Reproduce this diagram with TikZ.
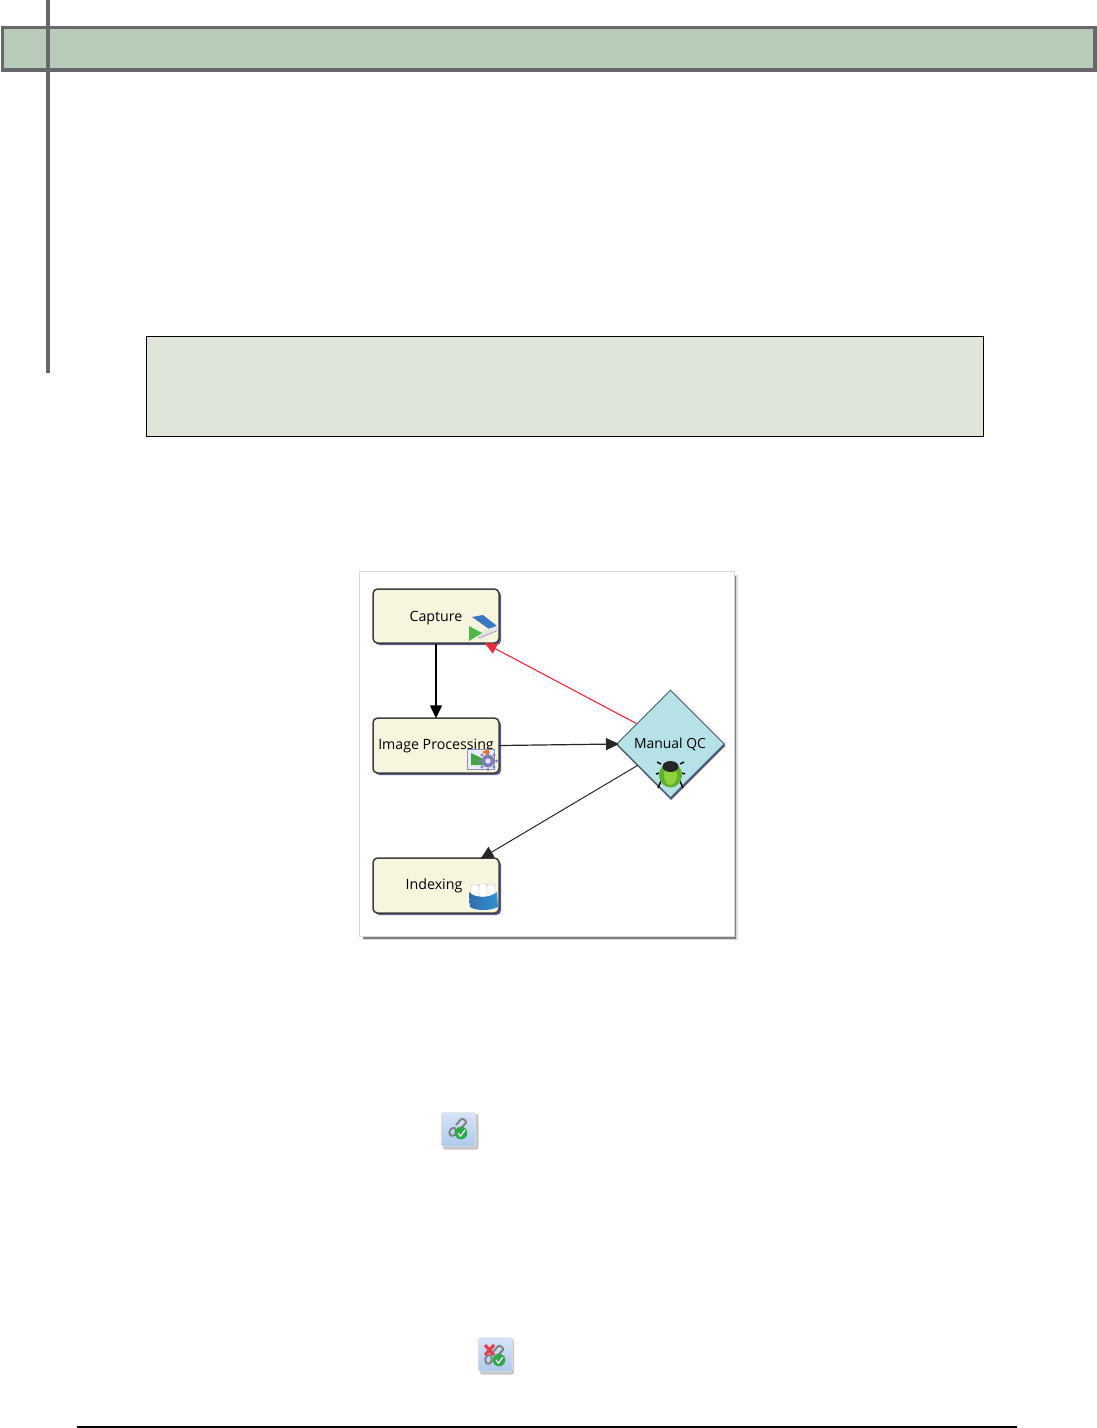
\documentclass[tikz,border=0pt]{standalone}
\usepackage{fontspec}
\setmainfont{Open Sans}
\usetikzlibrary{shapes.geometric,arrows.meta,shadows}
\definecolor{bandgreen}{HTML}{B8CBB8}
\definecolor{bandedge}{HTML}{66686C}
\definecolor{notegreen}{HTML}{DFE6D9}
\definecolor{stepfill}{HTML}{F8F5DF}
\definecolor{stepedge}{HTML}{3F3F3F}
\definecolor{qcfill}{HTML}{B6E1E7}
\definecolor{qcedge}{HTML}{4A5A62}
\definecolor{shadowblue}{HTML}{5A5A96}
\definecolor{icongreen}{HTML}{4DB848}
\definecolor{iconblue}{HTML}{3A78C4}
\definecolor{gearblue}{HTML}{8080B8}
\definecolor{buggreen}{HTML}{5FB02A}
\definecolor{buglight}{HTML}{8FD03C}
\definecolor{chkgreen}{HTML}{2FA84A}
\definecolor{xred}{HTML}{E8384A}
\definecolor{linkred}{HTML}{EC2A3A}
\definecolor{btntop}{HTML}{D6E4F6}
\definecolor{btnbot}{HTML}{AFC9EC}
\tikzset{
  x=1pt,y=-1pt,
  stepbox/.style={rectangle,rounded corners=4.5pt,draw=stepedge,line width=1.5pt,fill=stepfill,
    minimum width=126pt,minimum height=54pt,inner sep=0pt,font=\fontsize{14.2}{16}\selectfont,text=black},
  qcbox/.style={diamond,draw=qcedge,line width=1pt,fill=qcfill,minimum width=108pt,minimum height=108pt,
    inner sep=0pt,font=\fontsize{13.9}{16}\selectfont,text=black},
  flow/.style={draw=#1,-{Triangle[length=13pt,width=12pt]}},
  toolbtn/.style={rectangle,rounded corners=2pt,draw=black!12,line width=.5pt,
    top color=btntop,bottom color=btnbot,minimum width=34pt,minimum height=34pt,inner sep=0pt},
}
\begin{document}
\begin{tikzpicture}
\useasboundingbox (0,0) rectangle (1097,1428);
% page furniture
\draw[draw=bandedge,line width=3.6pt,fill=bandgreen] (2.5,27.5) rectangle (1095,70);
\draw[draw=bandedge,line width=3.5pt] (47.8,0) -- (47.8,373);
\draw[draw=black,line width=.7pt,fill=notegreen] (146.5,336.6) rectangle (983.6,436.2);
\draw[draw=black,line width=1.8pt] (76.5,1427) -- (1017,1427);
% panel
\fill[black!14] (363,575) rectangle (737.5,940);
\fill[black!50] (363,576) rectangle (736.3,938.8);
\draw[draw=black!15,line width=.8pt,fill=white] (359.8,571.8) rectangle (734.4,936.8);
% step shadows
\fill[shadowblue,rounded corners=4.5pt] (375,591) rectangle (501,645);
\fill[shadowblue,rounded corners=4.5pt] (375,720) rectangle (501,775);
\fill[shadowblue,rounded corners=4.5pt] (375,860) rectangle (501,915);
\fill[shadowblue] (671,691.5) -- (725.5,745.5) -- (671,800) -- (617,745.5) -- cycle;
% nodes
\node[stepbox] (capture) at (436,616) {\raisebox{-2pt}[\height][\depth]{Capture}};
\node[stepbox,minimum height=55pt] (imgproc) at (436,745.5) {Image Processing};
\node[stepbox,minimum height=55pt] (indexing) at (436,885.5) {\kern-4pt Indexing};
\node[qcbox] (qc) at (670.5,744) {\kern-1pt Manual QC};
% connectors
\draw[flow=black,line width=1.5pt,shorten >=-1pt] (capture.south) -- (imgproc.north);
\draw[flow=black!85,line width=1.2pt,shorten >=-3pt] (imgproc.east) -- (qc.west);
\draw[flow=black!85,line width=1pt,shorten >=-3pt] (qc.213.3) -- (indexing.31.4);
\draw[draw=linkred,line width=1.1pt,-{Triangle[length=12pt,width=11pt,fill=linkred]},shorten >=-1.5pt] (qc.149.5) -- (capture.-29);
% scanner icon
\fill[iconblue] (472,617) -- (483,615) -- (497,626) -- (489,629) -- cycle;
\fill[black!10] (476,633) -- (497,626) -- (498,630) -- (480,640) -- cycle;
\draw[black!40,line width=.6pt] (478,638) -- (497,631);
\fill[icongreen] (469,626) -- (482,633) -- (469,641) -- cycle;
% image-processing icon
\fill[blue!8] (467,749) rectangle (494,769);
\draw[blue!25!gray!70,line width=.6pt] (467,749) rectangle (494,769);
\fill[icongreen!90!black] (471,753) -- (486,760) -- (486,765) -- (471,765) -- cycle;
\fill[orange!90!red] (482,752) -- (489,749) -- (489,756) -- cycle;
\fill[gearblue] (488,761) circle (6.5pt);
\fill[gearblue] (488,761) +(0,-8.5) circle (1.6pt) +(0,8.5) circle (1.6pt) +(8.5,0) circle (1.6pt) +(-8.5,0) circle (1.6pt)
  +(6,-6) circle (1.6pt) +(-6,-6) circle (1.6pt) +(6,6) circle (1.6pt) +(-6,6) circle (1.6pt);
\fill[white!90!blue] (488,761) circle (2.6pt);
% indexing icon
\fill[white,draw=black!30,line width=.4pt,rounded corners=1pt] (471,885) rectangle (479,897);
\fill[white,draw=black!30,line width=.4pt,rounded corners=1pt] (479,884) rectangle (487,897);
\fill[white,draw=black!30,line width=.4pt,rounded corners=1pt] (487,885) rectangle (495,897);
\shade[left color=iconblue!90!black,right color=iconblue!80!cyan] (469,892) .. controls (476,899) and (490,898) .. (497,892) -- (498,907) .. controls (490,911) and (476,911) .. (470,907) -- cycle;
% bug icon
\draw[black,line width=1.4pt] (661,764) -- (657,762) (680,764) -- (684,762)
  (659,773) -- (656,774) (682,773) -- (685,774) (661,781) -- (658,788) (680,781) -- (683,788);
\fill[buggreen] (670.5,775) ellipse (11.5pt and 12.5pt);
\fill[buglight] (670.5,775) ellipse (6.5pt and 10pt);
\fill[black!85] (670.5,766.5) ellipse (8pt and 5.5pt);
% tool buttons
\fill[black!22,rounded corners=2pt] (443,1114) rectangle (478.5,1149.5);
\node[toolbtn] (btnchain) at (458.5,1129.5) {};
\draw[black!50,line width=1.9pt,rounded corners=2pt] (449,1130) -- (455,1127) -- (456,1135) -- (450,1136) -- cycle;
\draw[black!50,line width=1.9pt,rounded corners=2pt] (456,1125) -- (462,1118) -- (467,1122) -- (461,1128);
\fill[chkgreen] (461,1133) circle (6.3pt);
\draw[white,line width=1.2pt] (458,1133) -- (460.5,1136) -- (465,1130);
\fill[black!22,rounded corners=2pt] (480,1339) rectangle (514,1374.5);
\node[toolbtn] (btnunchain) at (495.5,1354.5) {};
\draw[black!50,line width=1.9pt,rounded corners=2pt] (485,1357) -- (491,1354) -- (492,1363) -- (486,1364) -- cycle;
\draw[black!50,line width=1.9pt,rounded corners=2pt] (493,1352) -- (499,1345) -- (504,1349) -- (498,1355);
\draw[xred,line width=3pt] (485,1345) -- (494,1355) (494,1345) -- (485,1355);
\fill[chkgreen] (499,1360) circle (6.3pt);
\draw[white,line width=1.2pt] (496,1360) -- (498.5,1363) -- (503,1357);
\end{tikzpicture}
\end{document}
